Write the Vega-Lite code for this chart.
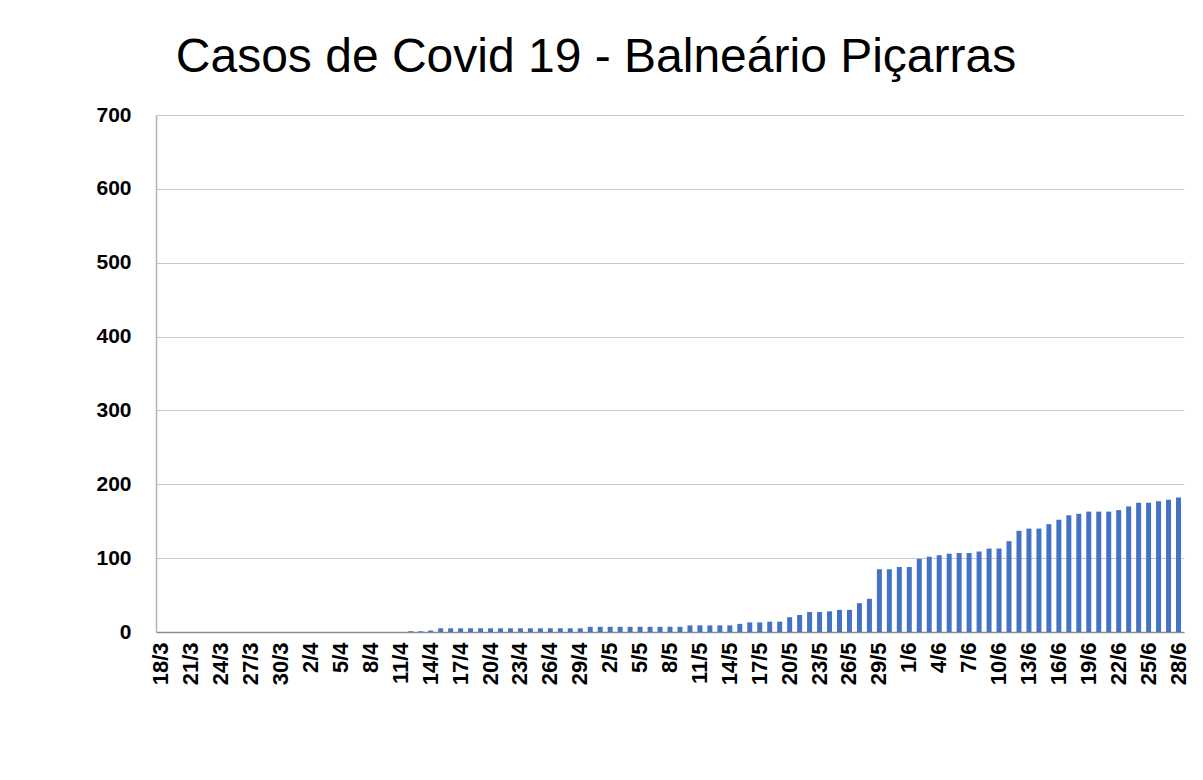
{
  "$schema": "https://vega.github.io/schema/vega-lite/v6.json",
  "autosize": "none",
  "width": 1028,
  "height": 517,
  "padding": {"left": 156, "top": 115, "right": 19, "bottom": 148},
  "background": "white",
  "title": {
    "text": "Casos de Covid 19 - Balneário Piçarras",
    "font": "Liberation Sans",
    "fontSize": 48,
    "fontWeight": "normal",
    "color": "#000000",
    "anchor": "middle",
    "dx": -74,
    "dy": 53,
    "offset": 37,
    "baseline": "alphabetic"
  },
  "data": {
    "values": [
      {"d": "18/3", "v": 0}, {"d": "19/3", "v": 0}, {"d": "20/3", "v": 0}, {"d": "21/3", "v": 0},
      {"d": "22/3", "v": 0}, {"d": "23/3", "v": 0}, {"d": "24/3", "v": 0}, {"d": "25/3", "v": 0},
      {"d": "26/3", "v": 0}, {"d": "27/3", "v": 0}, {"d": "28/3", "v": 0}, {"d": "29/3", "v": 0},
      {"d": "30/3", "v": 0}, {"d": "31/3", "v": 0}, {"d": "1/4", "v": 0}, {"d": "2/4", "v": 0},
      {"d": "3/4", "v": 0}, {"d": "4/4", "v": 0}, {"d": "5/4", "v": 0}, {"d": "6/4", "v": 0},
      {"d": "7/4", "v": 0}, {"d": "8/4", "v": 0}, {"d": "9/4", "v": 0}, {"d": "10/4", "v": 0},
      {"d": "11/4", "v": 0}, {"d": "12/4", "v": 1}, {"d": "13/4", "v": 1}, {"d": "14/4", "v": 2},
      {"d": "15/4", "v": 5}, {"d": "16/4", "v": 5}, {"d": "17/4", "v": 5}, {"d": "18/4", "v": 5},
      {"d": "19/4", "v": 5}, {"d": "20/4", "v": 5}, {"d": "21/4", "v": 5}, {"d": "22/4", "v": 5},
      {"d": "23/4", "v": 5}, {"d": "24/4", "v": 5}, {"d": "25/4", "v": 5}, {"d": "26/4", "v": 5},
      {"d": "27/4", "v": 5}, {"d": "28/4", "v": 5}, {"d": "29/4", "v": 5}, {"d": "30/4", "v": 7},
      {"d": "1/5", "v": 7}, {"d": "2/5", "v": 7}, {"d": "3/5", "v": 7}, {"d": "4/5", "v": 7},
      {"d": "5/5", "v": 7}, {"d": "6/5", "v": 7}, {"d": "7/5", "v": 7}, {"d": "8/5", "v": 7},
      {"d": "9/5", "v": 7}, {"d": "10/5", "v": 9}, {"d": "11/5", "v": 9}, {"d": "12/5", "v": 9},
      {"d": "13/5", "v": 9}, {"d": "14/5", "v": 9}, {"d": "15/5", "v": 11}, {"d": "16/5", "v": 13},
      {"d": "17/5", "v": 13}, {"d": "18/5", "v": 14}, {"d": "19/5", "v": 14}, {"d": "20/5", "v": 20},
      {"d": "21/5", "v": 23}, {"d": "22/5", "v": 27}, {"d": "23/5", "v": 27}, {"d": "24/5", "v": 28},
      {"d": "25/5", "v": 30}, {"d": "26/5", "v": 30}, {"d": "27/5", "v": 39}, {"d": "28/5", "v": 45},
      {"d": "29/5", "v": 85}, {"d": "30/5", "v": 85}, {"d": "31/5", "v": 88}, {"d": "1/6", "v": 88},
      {"d": "2/6", "v": 99}, {"d": "3/6", "v": 102}, {"d": "4/6", "v": 104}, {"d": "5/6", "v": 106},
      {"d": "6/6", "v": 107}, {"d": "7/6", "v": 107}, {"d": "8/6", "v": 109}, {"d": "9/6", "v": 113},
      {"d": "10/6", "v": 113}, {"d": "11/6", "v": 123}, {"d": "12/6", "v": 137}, {"d": "13/6", "v": 140},
      {"d": "14/6", "v": 140}, {"d": "15/6", "v": 146}, {"d": "16/6", "v": 152}, {"d": "17/6", "v": 158},
      {"d": "18/6", "v": 160}, {"d": "19/6", "v": 163}, {"d": "20/6", "v": 163}, {"d": "21/6", "v": 163},
      {"d": "22/6", "v": 165}, {"d": "23/6", "v": 170}, {"d": "24/6", "v": 175}, {"d": "25/6", "v": 175},
      {"d": "26/6", "v": 177}, {"d": "27/6", "v": 179}, {"d": "28/6", "v": 182}
    ]
  },
  "mark": {"type": "bar", "color": "#4472C4"},
  "encoding": {
    "x": {
      "field": "d",
      "type": "ordinal",
      "sort": null,
      "scale": {"paddingInner": 0.5, "paddingOuter": 0.3},
      "axis": {
        "title": null,
        "values": ["18/3","21/3","24/3","27/3","30/3","2/4","5/4","8/4","11/4","14/4","17/4","20/4","23/4","26/4","29/4","2/5","5/5","8/5","11/5","14/5","17/5","20/5","23/5","26/5","29/5","1/6","4/6","7/6","10/6","13/6","16/6","19/6","22/6","25/6","28/6"],
        "labelAngle": -90,
        "labelFont": "Liberation Sans",
        "labelFontSize": 22,
        "labelFontWeight": "bold",
        "labelColor": "#000000",
        "labelPadding": 10,
        "ticks": false,
        "domainColor": "#8c8c8c",
        "domainWidth": 1.5,
        "grid": false
      }
    },
    "y": {
      "field": "v",
      "type": "quantitative",
      "scale": {"domain": [0, 700], "nice": false},
      "axis": {
        "title": null,
        "values": [0, 100, 200, 300, 400, 500, 600, 700],
        "labelFont": "Liberation Sans",
        "labelFontSize": 21,
        "labelFontWeight": "bold",
        "labelColor": "#000000",
        "labelPadding": 25,
        "ticks": false,
        "domainColor": "#b4b4b4",
        "domainWidth": 1.5,
        "grid": true,
        "gridColor": "#c8c8c8",
        "gridWidth": 1
      }
    }
  },
  "config": {
    "view": {"stroke": null}
  }
}
